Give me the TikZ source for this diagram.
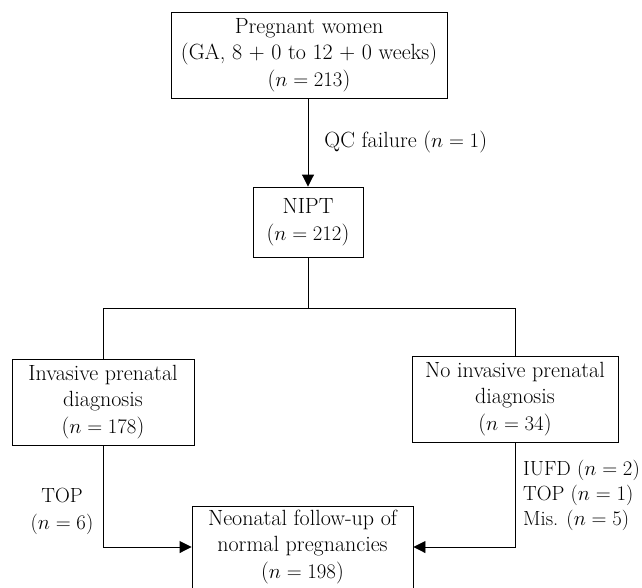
\documentclass[tikz,border=0pt]{standalone}
\usetikzlibrary{arrows.meta}
\begin{document}
\begin{tikzpicture}[x=1pt,y=-1pt,
  box/.style={draw, line width=0.9pt, align=center, inner sep=0pt,
    font=\fontsize{22}{26.5}\selectfont},
  lbl/.style={align=center, inner sep=0pt, font=\fontsize{20.5}{27}\selectfont},
  conn/.style={line width=0.9pt},
  arr/.style={line width=0.9pt, -{Triangle[length=12pt,width=12pt]}}]
\useasboundingbox (0,0) rectangle (642,587);
\node[box, minimum width=276pt, minimum height=86pt] (top) at (309,55)
  {Pregnant women\\(GA, 8 + 0 to 12 + 0 weeks)\\($n = 213$)};
\node[box, minimum width=110pt, minimum height=70pt] (nipt) at (308,222)
  {NIPT\\($n = 212$)};
\node[box, minimum width=182pt, minimum height=86pt] (inv) at (103,402)
  {Invasive prenatal\\diagnosis\\($n = 178$)};
\node[box, minimum width=206pt, minimum height=86pt] (noinv) at (515,399)
  {No invasive prenatal\\diagnosis\\($n = 34$)};
\node[box, minimum width=221pt, minimum height=82pt] (fol) at (302.5,547)
  {Neonatal follow-up of\\normal pregnancies\\($n = 198$)};
\coordinate (split) at (308,308);
\coordinate (lsplit) at (103,308);
\coordinate (rsplit) at (515,308);
\coordinate (lcorner) at (103,547);
\coordinate (rcorner) at (515,547);
\draw[arr] (top.south -| nipt.north) -- node[lbl, right=16pt, pos=0.5, font=\fontsize{22}{26}\selectfont]{QC failure ($n = 1$)} (nipt.north);
\draw[conn] (nipt.south) -- (split);
\draw[conn] (inv.north) -- (lsplit) -- (rsplit) -- (noinv.north);
\draw[arr] (inv.south) -- (lcorner) -- (fol.west);
\draw[arr] (noinv.south) -- (rcorner) -- (fol.east);
\node[lbl] (toplbl) at (62,511) {TOP\\($n = 6$)};
\node[lbl, align=left, anchor=west, font=\fontsize{20.5}{25}\selectfont] (rlbl) at (523,495)
  {IUFD ($n = 2$)\\TOP ($n = 1$)\\Mis. ($n = 5$)};
\end{tikzpicture}
\end{document}
